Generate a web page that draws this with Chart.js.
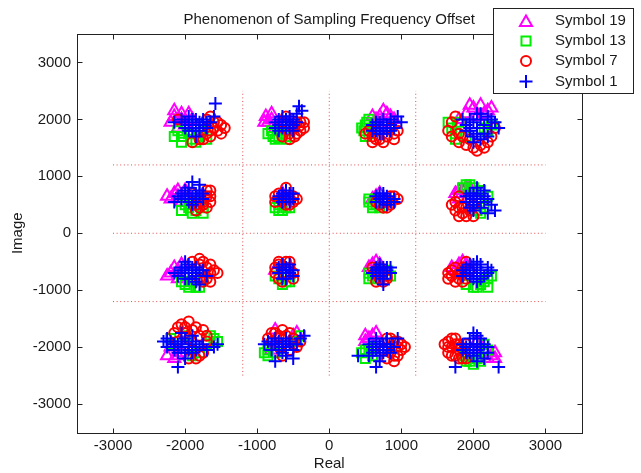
<!DOCTYPE html>
<html><head><meta charset="utf-8">
<script src="https://cdn.jsdelivr.net/npm/chart.js@4.4.1/dist/chart.umd.min.js"></script>
<style>html,body{margin:0;padding:0;background:#fff}#wrap{width:641px;height:473px;position:relative}</style>
</head><body><div id="wrap"><canvas id="c" width="641" height="473"></canvas></div>
<script>
const titleText = 'Phenomenon of Sampling Frequency Offset';
const xLabel = 'Real';
const yLabel = 'Image';
const tickValues = [-3000, -2000, -1000, 0, 1000, 2000, 3000];
const axisMin = -3500, axisMax = 3500;
const seriesNames = ['Symbol 19', 'Symbol 13', 'Symbol 7', 'Symbol 1'];

// Symbol 19 (magenta triangles)
const sym19 = [
 [-2150,2050],[-2200,1950],[-2050,2100],[-2000,1900],[-1900,2000],[-2100,1850],[-2150,2150],[-2050,2000],[-1950,2100],
 [-880,2050],[-850,1950],[-800,2000],[-700,1900],[-600,1950],[-750,1850],[-900,1950],[-800,2100],
 [700,2050],[800,2100],[650,2000],[900,2000],[750,1950],[600,2050],[850,2050],[750,2150],
 [1900,2100],[2000,2200],[2100,2250],[2200,2150],[2050,2050],[1800,2000],[2250,2200],[1950,2250],[2150,2100],
 [-2200,600],[-2150,700],[-2100,650],[-2000,750],[-2050,550],[-2250,650],[-2100,750],
 [-700,600],[-650,700],
 [650,650],[600,600],[700,700],
 [1750,700],[1850,750],[1950,800],[1800,600],[1800,750],[1900,800],
 [-2200,-700],[-2150,-600],[-2100,-800],[-2050,-550],[-2250,-750],[-2100,-650],
 [-750,-650],
 [600,-550],[650,-500],[700,-550],[550,-600],
 [1750,-650],[1800,-550],[1850,-500],[1700,-600],[1900,-550],
 [-2150,-2200],[-2050,-2100],[-2200,-2000],[-2250,-2150],[-2100,-2150],
 [-800,-2050],[-500,-1800],[-750,-1700],[-450,-1750],
 [550,-1850],[600,-1800],[500,-1900],[500,-1800],[650,-1750],
 [2250,-2150],[2150,-2050],[2050,-1900],[2300,-2200],[2300,-2100],[2200,-2200],[2100,-1950]
];
// Symbol 13 (green squares)
const sym13 = [
 [-2050,1700],[-1900,1650],[-1800,1700],[-2100,1800],[-1950,1750],[-1750,1800],[-2050,1600],[-1850,1600],[-2150,1700],[-1700,1650],
 [-780,1700],[-700,1680],[-650,1750],[-550,1700],[-800,1800],[-600,1800],[-850,1750],[-750,1650],[-600,1650],
 [500,1900],[480,1800],[550,1750],[600,1850],[520,1950],[450,1850],[500,1700],[550,2000],
 [1700,1850],[1750,1750],[1800,1950],[1900,1700],[2200,1800],[2250,1900],[1650,1950],[1750,1650],[2150,1850],
 [-1950,450],[-1850,400],[-1750,450],[-2000,500],[-1800,550],[-2050,400],[-1900,350],[-1750,350],
 [-750,450],[-650,400],[-550,450],[-700,500],[-600,450],[-700,400],
 [550,550],[600,500],[700,450],[650,600],[550,600],[600,450],[650,500],
 [1850,800],[1950,850],[2100,750],[2150,450],[2050,400],[1900,850],[2000,800],[2200,650],[2100,350],
 [-2000,-900],[-1900,-850],[-1750,-800],[-1850,-950],[-2050,-850],[-1800,-950],[-1950,-950],
 [-700,-800],[-600,-850],[-750,-750],[-650,-900],[-550,-850],
 [600,-750],[650,-800],[800,-650],[550,-700],[550,-800],[850,-750],
 [2100,-900],[2000,-950],[2200,-800],[1900,-900],[2150,-850],[2200,-950],[2250,-750],[2050,-950],
 [-2200,-1850],[-1600,-1850],[-1700,-1950],[-2000,-1800],[-1800,-2100],[-1650,-1800],[-1550,-1900],[-2200,-1950],[-1900,-2150],
 [-850,-2050],[-750,-2100],[-450,-1900],[-900,-2100],[-400,-1800],[-850,-2150],
 [450,-2100],[550,-2050],[600,-2000],[500,-2050],[500,-2200],[600,-2150],
 [1950,-2250],[2050,-2200],[1850,-2150],[2150,-1950],[2000,-2300],[2100,-2250],[1900,-2250],[2200,-2050]
];
// Symbol 7 (red circles)
const sym7 = [
 [-1600,1850],[-1550,1950],[-1650,1800],[-1700,2000],[-1500,1900],[-1800,1650],[-1700,1750],[-2100,2000],
 [-1650,1700],[-1550,1800],[-1600,1950],[-1750,1650],[-1900,1600],[-1650,2050],[-1450,1850],[-1500,1750],
 [-500,1850],[-450,1950],[-400,1800],[-550,1750],[-480,1700],[-650,1950],[-420,1880],[-600,2050],
 [-400,1950],[-350,1850],[-450,1750],[-550,1650],[-650,1700],[-350,1950],
 [600,1700],[700,1650],[800,1700],[900,1750],[650,1800],[850,1850],[550,1800],
 [600,1600],[750,1600],[900,1650],[950,1800],[500,1750],[650,1650],
 [1750,2050],[1700,1950],[1800,1600],[1900,1550],[2000,1500],[2100,1550],[2200,1600],[1850,1700],[1950,1650],[2300,1850],
 [1650,1800],[1700,1700],[2050,1450],[2150,1500],[2250,1700],[1800,1750],
 [-1700,650],[-1650,550],[-1750,500],[-1850,500],[-1700,750],[-1800,450],[-1900,700],
 [-1650,650],[-1750,550],[-1650,750],[-1850,400],[-1700,450],
 [-750,650],[-650,550],[-550,600],[-500,650],[-700,700],[-600,500],[-750,550],[-450,600],[-550,500],[-500,550],[-600,800],
 [700,500],[800,550],[850,650],[750,450],[650,550],[850,500],[900,650],[950,600],[800,450],
 [1750,550],[1800,450],[1850,350],[1900,300],[1950,400],[1800,650],[2000,500],[1700,500],[1750,400],[1850,450],[1900,450],[2000,300],[1800,300],
 [-1700,-600],[-1650,-700],[-1750,-500],[-1800,-550],[-1600,-650],[-1750,-850],[-1900,-500],
 [-1650,-550],[-1700,-800],[-1550,-700],[-1800,-450],[-1650,-850],[-1800,-800],
 [-700,-550],[-550,-600],[-500,-700],[-650,-850],[-600,-500],[-750,-700],[-700,-500],[-550,-500],[-500,-800],[-700,-800],[-750,-600],
 [700,-800],[750,-700],[650,-650],[800,-750],[700,-600],[800,-800],[650,-850],[750,-850],[600,-600],
 [1700,-750],[1750,-850],[1800,-700],[1850,-600],[1900,-800],[1700,-650],[1950,-650],
 [1650,-700],[1750,-600],[1800,-800],[1850,-850],[1650,-800],[1900,-500],
 [-2050,-1600],[-1950,-1550],[-1850,-1650],[-1750,-1700],[-2000,-1750],[-1900,-2050],[-1800,-2150],[-2100,-1900],[-1700,-1900],[-1950,-1850],
 [-2100,-1650],[-1900,-1700],[-2000,-1650],[-1800,-1800],[-1700,-1800],[-2150,-1750],[-1850,-2200],[-1950,-2200],[-1750,-2100],
 [-750,-1750],[-650,-1700],[-550,-1750],[-500,-1850],[-800,-1900],[-700,-2000],[-550,-2050],[-450,-2000],
 [-700,-1800],[-600,-1800],[-800,-1750],[-500,-1950],[-650,-2150],[-400,-1900],[-850,-1850],
 [900,-1900],[950,-2000],[850,-2100],[800,-1850],[1000,-1950],[900,-2150],[750,-2050],
 [850,-1850],[950,-1900],[1000,-2050],[950,-2150],[800,-2200],[900,-2250],[1050,-2000],
 [1650,-1900],[1700,-2000],[1750,-1850],[1800,-2050],[1650,-2100],[1900,-1950],[1850,-2200],[1750,-2150],
 [1600,-1950],[1700,-1850],[1800,-1950],[1700,-2150],[1800,-2200],[1900,-2200],[1650,-2000],[1750,-1950]
];
// Symbol 1 (blue plus)
const sym1 = [
 [-2000,1950],[-1900,1900],[-1850,2000],[-1800,1850],[-1950,1800],[-1700,1950],[-1600,2050],[-1850,1700],[-1580,2280],[-2150,1950],[-1750,2000],
 [-1950,2050],[-1900,2000],[-1800,1950],[-1750,1900],[-1850,1850],[-1900,1800],[-2000,1850],[-1700,1850],[-1800,1800],[-1650,1950],[-2050,2000],[-1950,1900],
 [-750,1950],[-650,1900],[-600,2000],[-550,1850],[-500,2000],[-450,2100],[-420,2230],[-700,1800],[-380,2150],[-600,1850],
 [-700,2000],[-650,2050],[-550,1950],[-500,1900],[-450,1950],[-600,1950],[-650,1850],[-700,1900],[-550,2050],[-500,1800],[-750,1850],
 [600,1900],[700,1950],[750,1850],[800,1900],[650,1800],[850,2000],[950,2050],[900,1850],[700,1750],
 [650,1950],[750,2000],[800,1800],[850,1900],[700,1850],[600,1800],[900,1950],[750,1750],[650,1900],[850,1800],[1000,1950],
 [1900,1900],[2000,1950],[2100,2000],[1950,1800],[2050,1850],[2150,1750],[2300,1950],[2350,1850],[2000,1700],[2200,2050],[1850,2000],
 [1950,2000],[2050,2100],[2150,1900],[2250,1850],[1950,1850],[2050,1750],[2100,1650],[2200,1700],[1900,1800],[2100,2100],[2250,2000],[2000,1600],
 [-2000,650],[-1900,600],[-1850,700],[-1950,800],[-1800,850],[-1900,500],[-1800,650],[-2150,550],[-1750,600],[-2050,700],
 [-2050,600],[-1950,700],[-1850,600],[-1800,750],[-1900,650],[-2000,750],[-1850,550],[-1950,550],[-1750,700],[-1900,900],[-2100,650],
 [-650,650],[-600,600],[-550,700],[-700,600],[-600,750],[-500,600],[-650,550],
 [-600,650],[-550,600],[-650,700],[-700,650],[-550,550],[-600,700],[-500,700],[-650,600],
 [700,600],[750,650],[800,600],[850,550],[700,700],[650,550],[900,550],[750,550],
 [750,600],[800,650],[650,650],[850,600],[700,550],[800,500],[900,600],[750,700],
 [1950,650],[2000,700],[2050,600],[2100,550],[2000,500],[2150,650],[2250,500],[2300,400],[2200,350],[1900,550],[2050,800],
 [1950,700],[2050,650],[2100,700],[2000,600],[2150,550],[2100,450],[1950,450],[2050,550],[2200,600],[2000,400],[1900,650],[2150,750],
 [-2050,-650],[-1950,-700],[-1900,-600],[-2000,-800],[-1850,-750],[-1800,-650],[-2100,-750],[-1950,-550],[-1800,-900],[-1700,-750],[-2000,-500],
 [-2000,-700],[-1900,-650],[-1850,-700],[-1950,-800],[-1850,-600],[-2050,-600],[-1750,-650],[-1900,-800],[-2000,-600],[-1850,-850],[-2150,-700],
 [-650,-650],[-600,-700],[-550,-650],[-700,-700],[-650,-550],[-600,-800],[-500,-650],
 [-600,-600],[-650,-700],[-550,-700],[-600,-650],[-700,-600],[-650,-800],[-550,-550],[-500,-750],
 [650,-600],[700,-650],[750,-600],[800,-650],[700,-750],[600,-700],[750,-900],[850,-600],
 [700,-600],[750,-700],[650,-650],[800,-700],[700,-550],[650,-750],[800,-600],[850,-700],[750,-800],
 [1900,-600],[2000,-700],[2050,-600],[2100,-650],[1950,-750],[2000,-550],[2150,-750],[2200,-600],[1850,-750],[2050,-850],
 [1950,-650],[2050,-700],[2100,-550],[1950,-550],[2000,-800],[2100,-800],[2200,-700],[1900,-700],[2250,-650],[2050,-500],[1850,-650],
 [-2300,-1900],[-2250,-2000],[-2150,-1950],[-2050,-1900],[-1950,-1950],[-1850,-1900],[-1800,-2000],[-2100,-2100],[-2000,-2200],[-2100,-2350],[-1550,-1950],[-1700,-2050],[-1900,-2100],
 [-2150,-2050],[-2050,-2000],[-1950,-2050],[-2000,-1850],[-1900,-2000],[-2100,-1950],[-2000,-2100],[-1850,-2050],[-2200,-1900],[-1750,-1950],[-2050,-1750],[-1900,-1800],[-2250,-1850],[-1600,-2000],
 [-900,-1950],[-850,-1900],[-750,-1850],[-650,-1950],[-600,-2000],[-550,-1900],[-400,-1850],[-750,-2250],[-500,-2200],[-650,-2100],[-350,-1800],
 [-800,-1950],[-700,-1900],[-600,-1850],[-650,-2000],[-550,-1950],[-500,-2050],[-700,-2050],[-600,-2150],[-450,-1950],[-800,-2050],[-750,-1950],
 [650,-1900],[700,-2000],[750,-1950],[800,-2050],[600,-2100],[700,-2150],[400,-2150],[650,-2350],[850,-2000],[950,-1850],[550,-1950],
 [700,-1950],[750,-2000],[650,-2050],[800,-1950],[750,-2100],[600,-2000],[850,-2100],[900,-2000],[700,-2250],[550,-2150],[800,-1850],[650,-1850],
 [1900,-2000],[2000,-1950],[2050,-2050],[2100,-2000],[1950,-2100],[2100,-1850],[2000,-1750],[1750,-2350],[2350,-2350],[2200,-2100],[1850,-2050],[2150,-2200],
 [1950,-1950],[2050,-1950],[2000,-2050],[2100,-2100],[1900,-2100],[2150,-1950],[2000,-2150],[1850,-1950],[2050,-2250],[2200,-2000],[1950,-1850],[2050,-1800]
];

// decision boundaries (red dotted)
const boundaryH = [-1200, 0, 1200];
const boundaryHSpan = [-3000, 3000];
const boundaryV = [-1200, 0, 1200];
const boundaryVSpan = [-2500, 2500];

const FONT = {family: '"Liberation Sans", Arial, Helvetica, sans-serif', size: 15, weight: 'normal'};
const TXT = '#1a1a1a';
const colors = ['#ff00ff', '#00ee00', '#ff0000', '#0000ff'];
const styles = ['triangle', 'rect', 'circle', 'cross'];
const radii = [7, 6.4, 5, 6.5];
const seriesData = [sym19, sym13, sym7, sym1];

const toXY = a => a.map(p => ({x: p[0], y: p[1]}));
const datasets = [];
boundaryH.forEach(v => datasets.push({type: 'line', data: [{x: boundaryHSpan[0], y: v}, {x: boundaryHSpan[1], y: v}],
  borderColor: '#e34b4b', borderWidth: 1, borderDash: [1, 2.6], pointRadius: 0, order: 10, fill: false}));
boundaryV.forEach(v => datasets.push({type: 'line', data: [{x: v, y: boundaryVSpan[0]}, {x: v, y: boundaryVSpan[1]}],
  borderColor: '#e34b4b', borderWidth: 1, borderDash: [1, 2.6], pointRadius: 0, order: 10, fill: false}));
seriesData.forEach((d, i) => datasets.push({
  type: 'scatter', label: seriesNames[i], data: toXY(d), pointStyle: styles[i], pointRadius: radii[i],
  pointBorderColor: colors[i], pointBackgroundColor: 'rgba(0,0,0,0)', pointBorderWidth: 2,
  order: 3 - i
}));

function drawMarker(ctx, style, x, y, r) {
  ctx.beginPath();
  if (style === 'triangle') {
    let a = 0;
    ctx.moveTo(x + Math.sin(a) * r, y - Math.cos(a) * r);
    a += 2 * Math.PI / 3; ctx.lineTo(x + Math.sin(a) * r, y - Math.cos(a) * r);
    a += 2 * Math.PI / 3; ctx.lineTo(x + Math.sin(a) * r, y - Math.cos(a) * r);
    ctx.closePath();
  } else if (style === 'rect') {
    const s = Math.SQRT1_2 * r; ctx.rect(x - s, y - s, 2 * s, 2 * s);
  } else if (style === 'circle') {
    ctx.arc(x, y, r, 0, Math.PI * 2);
  } else {
    ctx.moveTo(x - r, y); ctx.lineTo(x + r, y); ctx.moveTo(x, y - r); ctx.lineTo(x, y + r);
  }
  ctx.stroke();
}

const framePlugin = {
  id: 'frame',
  afterDraw(chart) {
    const {ctx, chartArea: a, scales} = chart;
    ctx.save();
    ctx.strokeStyle = '#222'; ctx.lineWidth = 1;
    const L = Math.round(a.left) + 0.5, R = Math.round(a.right) + 0.5, T = Math.round(a.top) + 0.5, B = Math.round(a.bottom) + 0.5;
    ctx.strokeRect(L, T, R - L, B - T);
    const tl = 5;
    ctx.beginPath();
    tickValues.forEach(v => {
      const px = Math.round(scales.x.getPixelForValue(v)) + 0.5;
      ctx.moveTo(px, B); ctx.lineTo(px, B - tl);
      ctx.moveTo(px, T); ctx.lineTo(px, T + tl);
      const py = Math.round(scales.y.getPixelForValue(v)) + 0.5;
      ctx.moveTo(L, py); ctx.lineTo(L + tl, py);
      ctx.moveTo(R, py); ctx.lineTo(R - tl, py);
    });
    ctx.stroke();
    // legend
    const bx = 493.5, by = 8.5, bw = 140, bh = 85;
    ctx.fillStyle = '#fff';
    ctx.fillRect(bx, by, bw, bh);
    ctx.strokeStyle = '#222';
    ctx.strokeRect(bx, by, bw, bh);
    const rowsY = [21, 41, 61, 81.5];
    ctx.font = '15px "Liberation Sans", Arial, sans-serif';
    ctx.textBaseline = 'middle'; ctx.textAlign = 'left';
    seriesNames.forEach((n, i) => {
      ctx.strokeStyle = colors[i]; ctx.lineWidth = 2;
      drawMarker(ctx, styles[i], 526, rowsY[i] + (styles[i] === 'triangle' ? 1.5 : 0), radii[i]);
      ctx.fillStyle = TXT;
      ctx.fillText(n, 555, rowsY[i]);
    });
    ctx.restore();
  }
};

new Chart(document.getElementById('c'), {
  data: {datasets},
  options: {
    responsive: false, devicePixelRatio: 1, animation: false,
    events: [],
    layout: {padding: {left: 0, right: 59.5, top: 0, bottom: 0}},
    plugins: {
      legend: {display: false}, tooltip: {enabled: false},
      title: {display: true, text: titleText, fullSize: false, font: FONT, color: TXT, padding: {top: 11, bottom: 5}}
    },
    scales: {
      x: {type: 'linear', min: axisMin, max: axisMax,
        afterBuildTicks: s => { s.ticks = tickValues.map(v => ({value: v})); },
        afterFit: s => { s.height = 40.5; },
        ticks: {callback: v => String(v), font: FONT, color: TXT, padding: 4, maxRotation: 0, autoSkip: false},
        grid: {display: false, drawTicks: false}, border: {display: false},
        title: {display: true, text: xLabel, font: FONT, color: TXT, padding: {top: 0, bottom: 0}}
      },
      y: {type: 'linear', min: axisMin, max: axisMax,
        afterBuildTicks: s => { s.ticks = tickValues.map(v => ({value: v})); },
        afterFit: s => { s.width = 77; },
        ticks: {callback: v => String(v), font: FONT, color: TXT, padding: 6, autoSkip: false},
        grid: {display: false, drawTicks: false}, border: {display: false},
        title: {display: true, text: yLabel, font: FONT, color: TXT, padding: {top: 9, bottom: 0}}
      }
    }
  },
  plugins: [framePlugin]
});
</script></body></html>
